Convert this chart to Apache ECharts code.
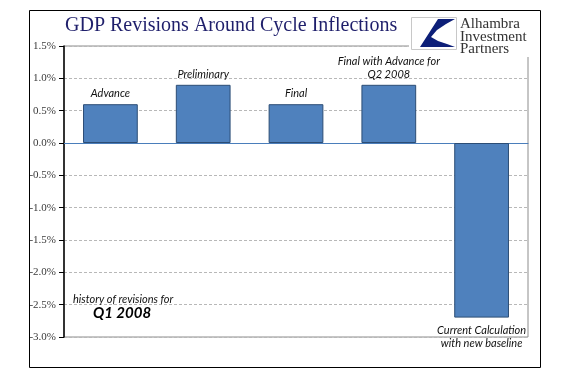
<!DOCTYPE html>
<html>
<head>
<meta charset="utf-8">
<script src="https://cdn.jsdelivr.net/npm/echarts@6/dist/echarts.min.js"></script>
<style>html,body{margin:0;padding:0;background:#fff;}#c{width:577px;height:386px;}</style>
</head>
<body>
<div id="c"></div>
<script>
var categories = ['Advance', 'Preliminary', 'Final', 'Final with Advance for\nQ2 2008', 'Current Calculation\nwith new baseline'];
var values = [0.6, 0.9, 0.6, 0.9, -2.7];
var yTicks = { min: -3.0, max: 1.5, interval: 0.5 };
var titleText = 'GDP Revisions Around Cycle Inflections';
var logoLines = ['Alhambra', 'Investment', 'Partners'];
var noteLine1 = 'history of revisions for';
var noteLine2 = 'Q1 2008';

var chart = echarts.init(document.getElementById('c'), null, { renderer: 'canvas' });
var labelFont = { fontFamily: 'Lato', fontStyle: 'italic', fontSize: 11, color: '#111', lineHeight: 13 };

chart.setOption({
  animation: false,
  backgroundColor: '#fff',
  grid: { left: 64, right: 49, top: 46, bottom: 49, show: true, borderColor: '#8c8c8c', borderWidth: 1, backgroundColor: 'transparent' },
  xAxis: {
    type: 'category',
    data: categories,
    axisLine: { onZero: true, lineStyle: { color: '#4a7ebb', width: 1 } },
    axisTick: { show: false },
    axisLabel: { show: false },
    splitLine: { show: false }
  },
  yAxis: {
    type: 'value',
    min: yTicks.min, max: yTicks.max, interval: yTicks.interval,
    axisLine: { show: true, lineStyle: { color: '#000', width: 1.5 } },
    axisTick: { show: true, inside: false, length: 5, lineStyle: { color: '#000' } },
    axisLabel: { margin: 8, fontFamily: 'Liberation Serif', fontSize: 11, color: '#3a3a3a',
      formatter: function (v) { return v.toFixed(1) + '%'; } },
    splitLine: { show: true, lineStyle: { color: '#b8b8b8', type: [3, 2], width: 1 } }
  },
  series: [{
    type: 'bar',
    data: values.map(function (v, i) {
      return { value: v, label: { position: v >= 0 ? 'top' : 'bottom', distance: v >= 0 ? 4 : 6 } };
    }),
    barWidth: '59%',
    itemStyle: { color: '#4f81bd', borderColor: '#2c4d75', borderWidth: 1 },
    label: Object.assign({ show: true, formatter: function (p) { return categories[p.dataIndex]; } }, labelFont),
    z: 3
  }],
  graphic: [
    { type: 'rect', shape: { x: 409, y: 10, width: 131, height: 47 }, style: { fill: '#fff' }, z: 10 },
    { type: 'rect', shape: { x: 29.5, y: 10.5, width: 511, height: 357 }, style: { fill: 'none', stroke: '#000', lineWidth: 1 }, z: 11 },
    { type: 'text', x: 65, y: 16, style: { text: titleText, font: '20px "Liberation Serif"', fill: '#1f1f6b' }, z: 12 },
    { type: 'rect', shape: { x: 411.5, y: 17.5, width: 45, height: 32 }, style: { fill: '#fff', stroke: '#c8c8c8', lineWidth: 1 }, z: 12 },
    { type: 'polygon', shape: { points: [[438,19],[455,19],[446,24],[437,30],[431,37],[438,41],[447,44],[455,47],[420,47]] }, style: { fill: '#0d1f78' }, z: 13 },
    { type: 'text', x: 460, y: 18, style: { text: logoLines.join('\n'), font: '15px "Liberation Serif"', lineHeight: 12.5, fill: '#333' }, z: 12 },
    { type: 'text', x: 73, y: 294, style: { text: noteLine1, font: 'italic 11px Lato', fill: '#111' }, z: 12 },
    { type: 'text', x: 93, y: 306, style: { text: noteLine2, font: 'italic bold 15px Lato', fill: '#000' }, z: 12 }
  ]
});
</script>
</body>
</html>
